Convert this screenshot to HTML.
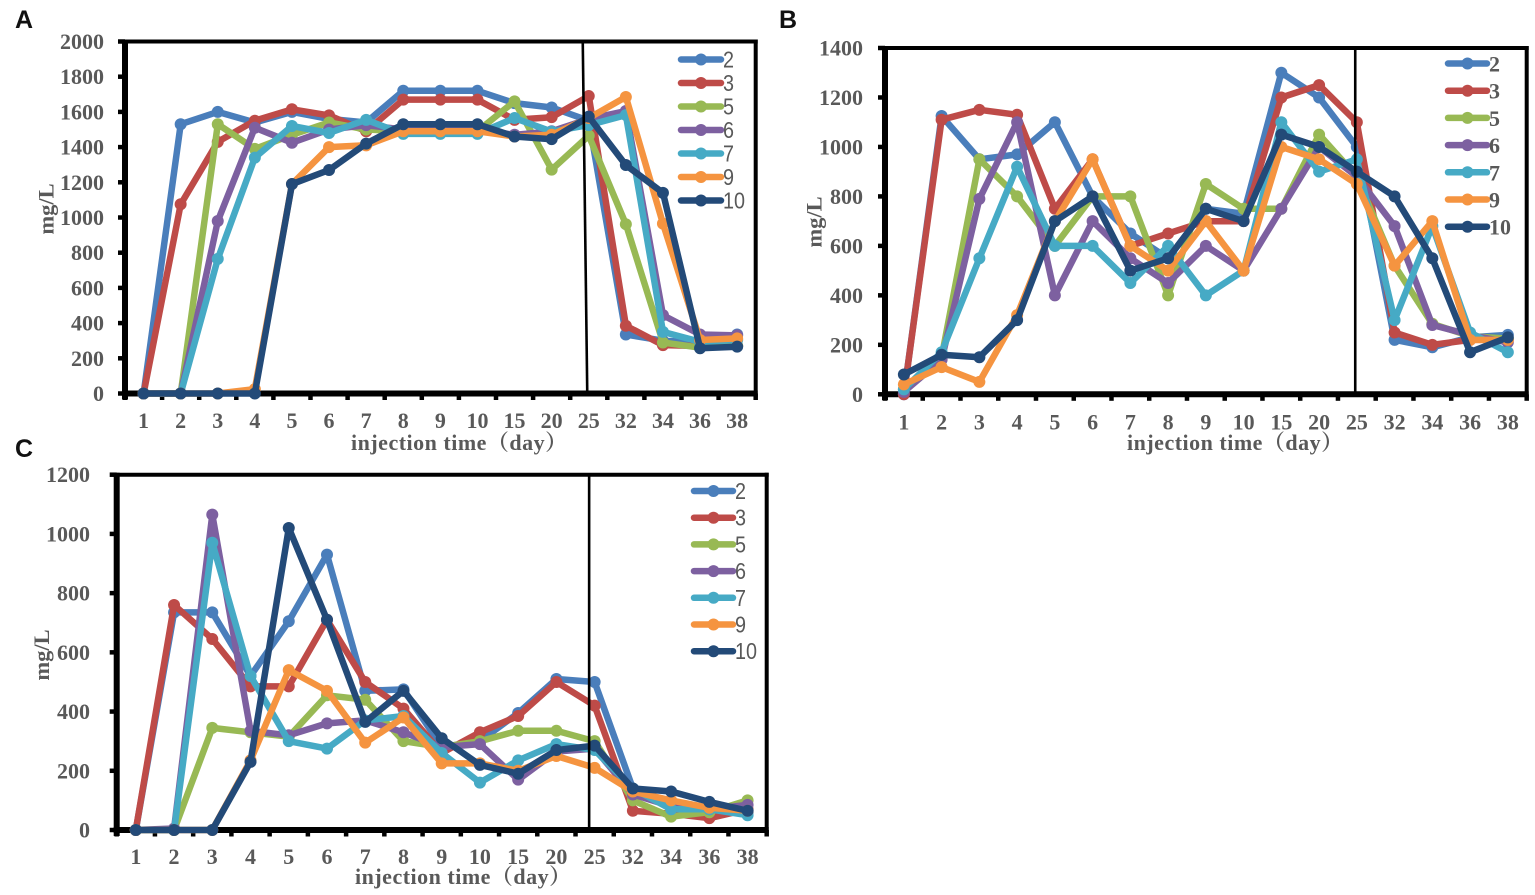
<!DOCTYPE html>
<html lang="en">
<head>
<meta charset="utf-8">
<title>Injection time concentration charts</title>
<style>
html,body{margin:0;padding:0;background:#fff;}
body{width:1535px;height:895px;overflow:hidden;}
svg{display:block;}
.tick{font-family:"Liberation Serif",serif;font-weight:bold;font-size:22px;fill:#595959;}
.title{font-family:"Liberation Serif","Noto Serif CJK SC",serif;font-weight:bold;font-size:22px;fill:#595959;letter-spacing:.5px;}
.ytitle{font-family:"Liberation Serif",serif;font-weight:bold;font-size:22.5px;fill:#595959;}
.panel{font-family:"Liberation Sans",sans-serif;font-weight:bold;font-size:25px;fill:#111;}
.leg-sans{font-family:"Liberation Sans",sans-serif;font-size:23px;fill:#595959;}
.leg-serif{font-family:"Liberation Serif",serif;font-weight:bold;font-size:22px;fill:#595959;}
</style>
</head>
<body>
<svg id="fig" width="1535" height="895" viewBox="0 0 1535 895" xmlns="http://www.w3.org/2000/svg">
  <rect width="1535" height="895" fill="#fff"/>
  <text class="panel" x="15" y="28">A</text>
  <text class="panel" x="779" y="28">B</text>
  <text class="panel" x="15" y="457">C</text>
  <text class="title" x="351" y="450">injection time（day）</text>
  <text class="title" x="1127" y="450">injection time（day）</text>
  <text class="title" x="355" y="884">injection time（day）</text>
  <text class="ytitle" text-anchor="middle" transform="translate(53.5,209) rotate(-90)">mg/L</text>
  <text class="ytitle" text-anchor="middle" transform="translate(821.5,222) rotate(-90)">mg/L</text>
  <text class="ytitle" text-anchor="middle" transform="translate(49,655) rotate(-90)">mg/L</text>
</svg>
<script>
const categories = ["1","2","3","4","5","6","7","8","9","10","15","20","25","32","34","36","38"];
const seriesNames = ["2","3","5","6","7","9","10"];
const seriesColors = ["#4a7ebb","#be4b48","#98b954","#7d60a0","#46aac5","#f59440","#234a78"];

const ticksA = [0,200,400,600,800,1000,1200,1400,1600,1800,2000];
const ticksB = [0,200,400,600,800,1000,1200,1400];
const ticksC = [0,200,400,600,800,1000,1200];

const a2  = [0,1530,1600,1540,1600,1560,1540,1720,1720,1720,1650,1625,1550,335,300,290,335];
const a3  = [0,1075,1430,1550,1615,1580,1490,1670,1670,1670,1555,1570,1690,385,275,270,270];
const a5  = [0,0,1530,1390,1470,1540,1500,1490,1490,1490,1660,1272,1465,962,290,260,270];
const a6  = [0,0,980,1510,1425,1500,1525,1500,1500,1500,1470,1490,1560,1605,445,335,330];
const a7  = [0,0,765,1340,1520,1480,1555,1475,1475,1475,1565,1488,1525,1582,350,294,304];
const a9  = [0,0,0,25,1190,1400,1410,1490,1490,1490,1460,1470,1565,1685,965,304,313];
const a10 = [0,0,0,0,1190,1270,1420,1530,1530,1530,1460,1445,1573,1298,1140,257,266];

const b2  = [0,1125,950,970,1100,800,650,550,750,730,1300,1200,1000,220,190,230,240];
const b3  = [0,1110,1150,1130,750,950,600,650,700,700,1200,1250,1100,250,200,220,220];
const b5  = [20,150,950,800,600,800,800,400,850,750,750,1050,880,520,285,235,225];
const b6  = [10,140,790,1100,400,700,550,450,600,500,750,1000,880,680,280,240,210];
const b7  = [20,170,550,920,600,600,450,600,400,500,1100,900,950,300,680,250,170];
const b9  = [40,110,50,320,700,950,600,500,700,500,1000,950,850,520,700,220,220];
const b10 = [80,160,150,300,700,800,500,550,750,700,1050,1000,900,800,550,170,230];

const c2  = [0,735,735,520,705,930,470,475,280,300,395,510,500,140,90,65,60];
const c3  = [0,760,645,485,485,710,500,410,260,330,385,500,420,65,55,40,70];
const c5  = [0,0,345,330,315,455,440,300,280,300,335,335,300,100,45,60,100];
const c6  = [0,5,1065,335,320,360,370,330,280,290,170,265,275,120,80,70,85];
const c7  = [0,0,970,520,300,275,370,385,260,160,235,290,270,140,70,70,50];
const c9  = [0,0,0,235,540,470,295,380,225,225,200,250,210,130,100,75,65];
const c10 = [0,0,0,230,1020,710,365,470,310,220,190,270,285,140,130,95,65];

const seriesA = [a2,a3,a5,a6,a7,a9,a10];
const seriesB = [b2,b3,b5,b6,b7,b9,b10];
const seriesC = [c2,c3,c5,c6,c7,c9,c10];

const NS = "http://www.w3.org/2000/svg";
const fig = document.getElementById("fig");

function mk(parent, tag, attrs, text) {
  const el = document.createElementNS(NS, tag);
  for (const k in attrs) el.setAttribute(k, attrs[k]);
  if (text !== undefined) el.textContent = text;
  parent.appendChild(el);
  return el;
}

function drawPanel(id, series, yTicks, g) {
  const yMax = yTicks[yTicks.length - 1];
  const band = (g.right - g.left) / categories.length;
  const xScale = i => g.left + band * (i + 0.5);
  const yScale = v => g.bottom - (v / yMax) * (g.bottom - g.top);

  const root = mk(fig, "g", {});
  
  

  // frame
  const frame = mk(root, "g", {stroke:"#000", fill:"none"});
  
  
  mk(frame, "line", {x1:g.left-3, x2:g.right+2, y1:g.top, y2:g.top, "stroke-width":4});
  mk(frame, "line", {x1:g.right, x2:g.right, y1:g.top-2, y2:g.bottom, "stroke-width":4});

  // y axis + ticks
  const yAxis = mk(root, "g", {});
  
  
  mk(yAxis, "line", {x1:g.left, x2:g.left, y1:g.top-2, y2:g.bottom+6, stroke:"#000", "stroke-width":6});
  yTicks.forEach(t => {
    const y = yScale(t);
    const tick = mk(yAxis, "line", {x1:g.left-7, x2:g.left, y1:y, y2:y, stroke:"#000", "stroke-width":4.5});
    
    
    const lab = mk(yAxis, "text", {class:"tick", x:g.labelRight, y:y+7.5, "text-anchor":"end"}, String(t));
    
    
  });

  // x axis + ticks
  const xAxis = mk(root, "g", {});
  
  
  mk(xAxis, "line", {x1:g.left-3, x2:g.right+2, y1:g.bottom, y2:g.bottom, stroke:"#000", "stroke-width":6});
  for (let i = 0; i <= categories.length; i++) {
    const x = g.left + band * i;
    const tick = mk(xAxis, "line", {x1:x, x2:x, y1:g.bottom, y2:g.bottom+6.5, stroke:"#000", "stroke-width":4.5});
    
    
  }
  categories.forEach((c, i) => {
    const lab = mk(xAxis, "text", {class:"tick", x:xScale(i), y:g.labelBase, "text-anchor":"middle"}, c);
    
    
  });

  // series
  series.forEach((vals, s) => {
    const grp = mk(root, "g", {});
    
    
    const pts = vals.map((v, i) => xScale(i).toFixed(1) + "," + yScale(v).toFixed(1)).join(" ");
    mk(grp, "polyline", {points:pts, fill:"none", stroke:seriesColors[s], "stroke-width":6.5, "stroke-linejoin":"round"});
    vals.forEach((v, i) => {
      const dot = mk(grp, "circle", {cx:xScale(i), cy:yScale(v), r:6, fill:seriesColors[s]});
      
      
    });
  });

  // reference line at day 25
  const ref = mk(root, "line", {x1:xScale(12)+g.refTop, x2:xScale(12)+g.refBottom, y1:g.top, y2:g.bottom-1, stroke:"#000", "stroke-width":2.6});
  
  

  // legend
  const legend = mk(root, "g", {});
  
  
  seriesNames.forEach((n, s) => {
    const y = g.legY + s * g.legStep;
    const entry = mk(legend, "g", {});
    
    
    mk(entry, "line", {x1:g.legX1, x2:g.legX2, y1:y, y2:y, stroke:seriesColors[s], "stroke-width":6.5, "stroke-linecap":"round"});
    mk(entry, "circle", {cx:(g.legX1+g.legX2)/2, cy:y, r:6, fill:seriesColors[s]});
    mk(entry, "text", {class:g.legClass, transform:"translate(" + (g.legX2+2) + "," + (y+8) + ") scale(" + g.legScale + ",1)"}, n);
  });
}

drawPanel("a", seriesA, ticksA, {left:125, right:755.7, top:41.5, bottom:393.5, labelRight:104, labelBase:428,
  refTop:-6, refBottom:-1.5, legX1:681, legX2:721, legY:59.5, legStep:23.5, legClass:"leg-sans", legScale:0.86});
drawPanel("b", seriesB, ticksB, {left:885, right:1526.7, top:48, bottom:394.3, labelRight:863, labelBase:429.5,
  refTop:-1.6, refBottom:-1.6, legX1:1448, legX2:1487, legY:63.5, legStep:27.2, legClass:"leg-serif", legScale:1});
drawPanel("c", seriesC, ticksC, {left:116.7, right:766.7, top:474.7, bottom:830, labelRight:90, labelBase:864,
  refTop:-5.5, refBottom:-5.5, legX1:694, legX2:733, legY:491, legStep:26.7, legClass:"leg-sans", legScale:0.86});
</script>
</body>
</html>
